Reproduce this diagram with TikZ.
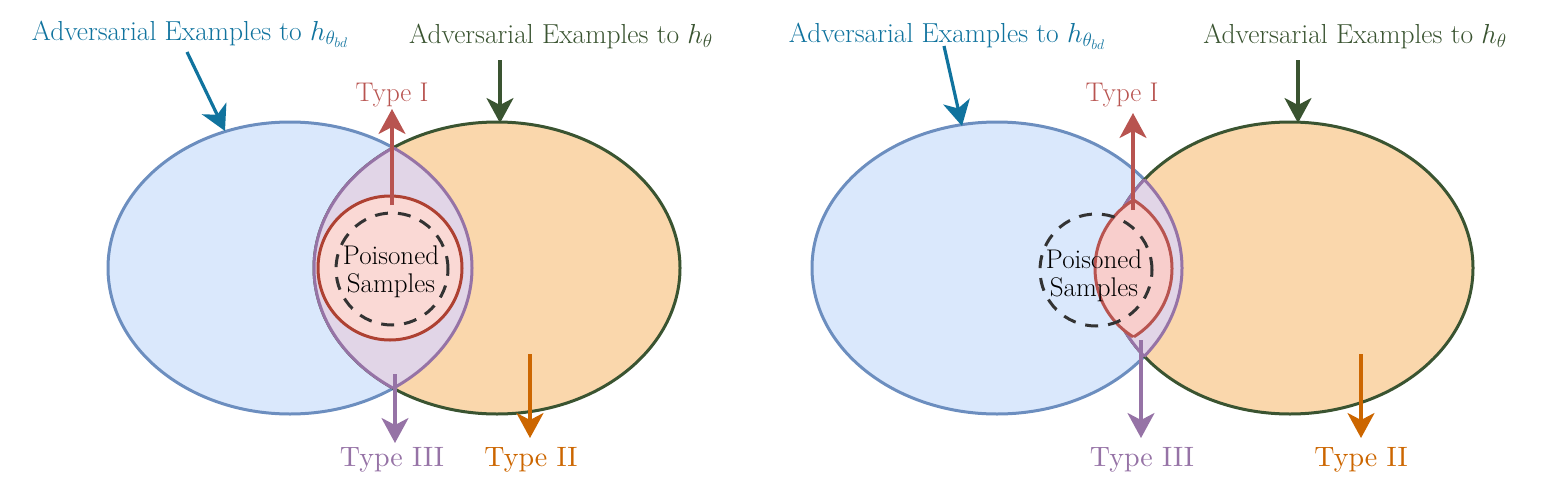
\RequirePackage{fix-cm}
\documentclass[tikz,border=0pt]{standalone}
\usetikzlibrary{arrows.meta}
\definecolor{blueFill}{HTML}{DAE8FC}
\definecolor{blueLine}{HTML}{6C8EBF}
\definecolor{orangeFill}{HTML}{FAD7AC}
\definecolor{greenLine}{HTML}{3A5431}
\definecolor{purpleFill}{HTML}{E1D5E7}
\definecolor{purpleLine}{HTML}{9673A6}
\definecolor{redFill}{HTML}{F8CECC}
\definecolor{redLine}{HTML}{B85450}
\definecolor{circFill}{HTML}{FAD9D5}
\definecolor{circLine}{HTML}{AE4132}
\definecolor{advBlue}{HTML}{10739E}
\definecolor{typeOrange}{HTML}{CC6600}
\definecolor{dashGray}{HTML}{333333}
\font\botfnt=cmr10 at 28pt
\begin{document}
\begin{tikzpicture}[x=1pt,y=-1pt,
  outl/.style={line width=3pt},
  arr/.style={line width=3.2pt,-{Stealth[length=25pt,width=27pt,inset=7pt]}},
  toplabel/.style={font=\fontsize{27.5}{32}\selectfont},
  typelabel/.style={font=\fontsize{27}{32}\selectfont},
  botlabel/.style={font=\botfnt},
  pslabel/.style={font=\fontsize{27}{28}\selectfont,align=center,text=black},
  dashcirc/.style={line width=3pt,draw=dashGray,dash pattern=on 13pt off 10pt}
]
\useasboundingbox (0,0) rectangle (1550,493);

% ================= LEFT PANEL =================
\coordinate (LA) at (290,268);
\coordinate (LB) at (497,268);
\fill[blueFill] (LA) ellipse [x radius=182pt, y radius=146pt];
\draw[outl,blueLine] (LA) ellipse [x radius=182pt, y radius=146pt];
\fill[orangeFill] (LB) ellipse [x radius=183pt, y radius=146pt];
\draw[outl,greenLine] (LB) ellipse [x radius=183pt, y radius=146pt];
\begin{scope}
  \clip (LA) ellipse [x radius=182pt, y radius=146pt];
  \fill[purpleFill] (LB) ellipse [x radius=183pt, y radius=146pt];
  \draw[outl,purpleLine] (LB) ellipse [x radius=183pt, y radius=146pt];
\end{scope}
\begin{scope}
  \clip (LB) ellipse [x radius=183pt, y radius=146pt];
  \draw[outl,purpleLine] (LA) ellipse [x radius=182pt, y radius=146pt];
\end{scope}
\node[circle,minimum size=144pt,inner sep=0pt,fill=circFill,draw=circLine,outl] (Lred) at (390,268) {};
\node[circle,minimum size=112pt,inner sep=0pt,dashcirc] (Ldash) at (392,269) {};
\node[pslabel] (Lps) at (391,272) {Poisoned\\Samples};

% labels
\node[toplabel,text=advBlue] (LtBlue) at (190,34) {Adversarial Examples to $h_{\theta_{bd}}$};
\node[toplabel,text=greenLine] (LtGreen) at (561,36) {Adversarial Examples to $h_{\theta}$};
\node[typelabel,text=redLine] (Lt1) at (392,95) {Type I};
\node[botlabel,text=purpleLine] (Lt3) at (392,460) {Type III};
\node[botlabel,text=typeOrange] (Lt2) at (531,460) {Type II};

% arrows
\coordinate (LbS) at (187,52); \coordinate (LbE) at (225,131);
\coordinate (LgS) at (500,60); \coordinate (LgE) at (500,123);
\coordinate (L1S) at (392,205); \coordinate (L1E) at (392,109);
\coordinate (L3S) at (395,374); \coordinate (L3E) at (395,443);
\coordinate (L2S) at (530,354); \coordinate (L2E) at (530,438);
\draw[arr,advBlue] (LbS) -- (LbE);
\draw[arr,greenLine] (LgS) -- (LgE);
\draw[arr,redLine] (L1S) -- (L1E);
\draw[arr,purpleLine] (L3S) -- (L3E);
\draw[arr,typeOrange] (L2S) -- (L2E);

% ================= RIGHT PANEL =================
\coordinate (RA) at (997,268);
\coordinate (RB) at (1290,268);
\fill[blueFill] (RA) ellipse [x radius=185pt, y radius=146pt];
\draw[outl,blueLine] (RA) ellipse [x radius=185pt, y radius=146pt];
\fill[orangeFill] (RB) ellipse [x radius=183pt, y radius=146pt];
\draw[outl,greenLine] (RB) ellipse [x radius=183pt, y radius=146pt];
\begin{scope}
  \clip (RA) ellipse [x radius=185pt, y radius=146pt];
  \fill[purpleFill] (RB) ellipse [x radius=183pt, y radius=146pt];
  \draw[outl,purpleLine] (RB) ellipse [x radius=183pt, y radius=146pt];
\end{scope}
\begin{scope}
  \clip (RB) ellipse [x radius=183pt, y radius=146pt];
  \draw[outl,purpleLine] (RA) ellipse [x radius=185pt, y radius=146pt];
\end{scope}
% red lens
\coordinate (RC1) at (1175.2,268.5);
\coordinate (RC2) at (1091.8,268.5);
\begin{scope}
  \clip (RC1) circle [radius=80.2pt];
  \fill[redFill] (RC2) circle [radius=80.2pt];
  \draw[outl,redLine] (RC2) circle [radius=80.2pt];
\end{scope}
\begin{scope}
  \clip (RC2) circle [radius=80.2pt];
  \draw[outl,redLine] (RC1) circle [radius=80.2pt];
\end{scope}
\node[circle,minimum size=112pt,inner sep=0pt,dashcirc] (Rdash) at (1096,270) {};
\node[pslabel] (Rps) at (1094,276) {Poisoned\\Samples};

% labels
\node[toplabel,text=advBlue] (RtBlue) at (947,36) {Adversarial Examples to $h_{\theta_{bd}}$};
\node[toplabel,text=greenLine] (RtGreen) at (1355,36) {Adversarial Examples to $h_{\theta}$};
\node[typelabel,text=redLine] (Rt1) at (1122,95) {Type I};
\node[botlabel,text=purpleLine] (Rt3) at (1142,460) {Type III};
\node[botlabel,text=typeOrange] (Rt2) at (1361,460) {Type II};

% arrows
\coordinate (RbS) at (944,46); \coordinate (RbE) at (962,126);
\coordinate (RgS) at (1298,60); \coordinate (RgE) at (1298,123);
\coordinate (R1S) at (1133,210); \coordinate (R1E) at (1133,113);
\coordinate (R3S) at (1141,340); \coordinate (R3E) at (1141,438);
\coordinate (R2S) at (1361,354); \coordinate (R2E) at (1361,438);
\draw[arr,advBlue] (RbS) -- (RbE);
\draw[arr,greenLine] (RgS) -- (RgE);
\draw[arr,redLine] (R1S) -- (R1E);
\draw[arr,purpleLine] (R3S) -- (R3E);
\draw[arr,typeOrange] (R2S) -- (R2E);
\end{tikzpicture}
\end{document}
